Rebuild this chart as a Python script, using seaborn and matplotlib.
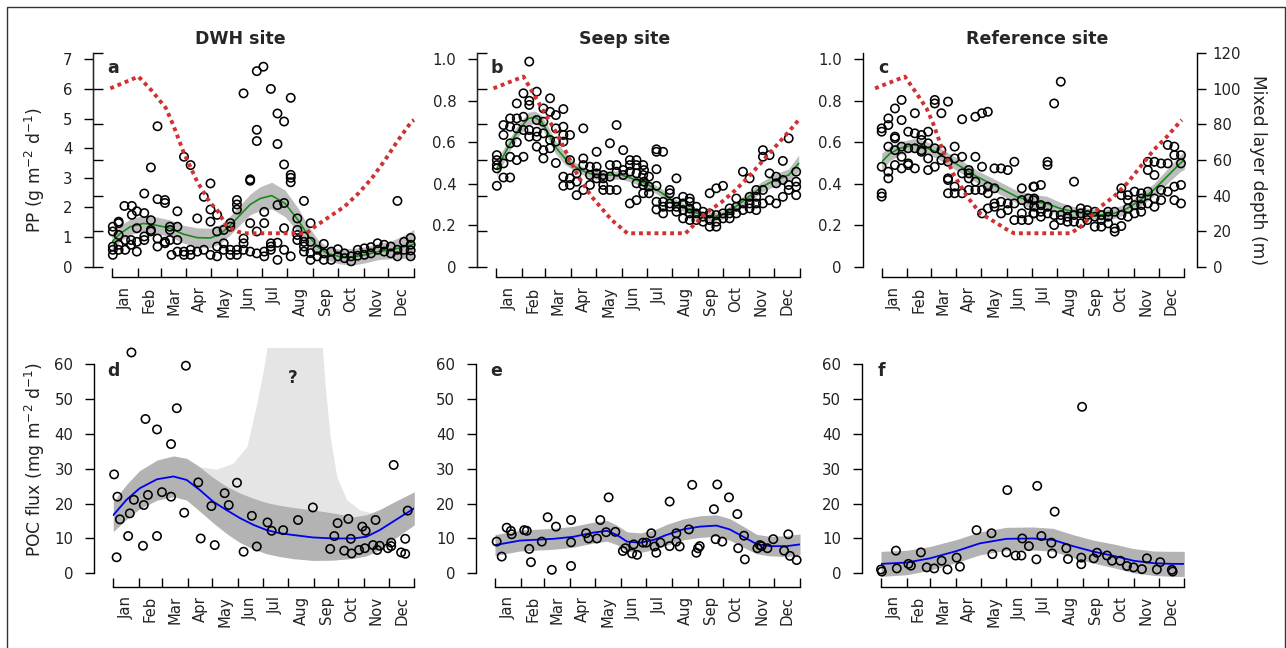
import numpy as np
import seaborn as sns
import matplotlib.pyplot as plt
from matplotlib.patches import Rectangle

W, H = 1286, 648
PT = 72 / 100  # points per pixel at dpi 100

month_edges = [0, 31, 59, 90, 120, 151, 181, 212, 243, 273, 304, 334, 365]
month_names = ['Jan', 'Feb', 'Mar', 'Apr', 'May', 'Jun', 'Jul', 'Aug', 'Sep', 'Oct', 'Nov', 'Dec']
month_mid = [(month_edges[i] + month_edges[i + 1]) / 2 for i in range(12)]

# ---------------- PP, DWH site (a) ----------------
pp_a_day = [1, 1, 1, 1, 1, 8, 8, 8, 8, 8, 16, 16, 15, 24, 24, 23, 23, 30, 30, 30, 30,
            39, 39, 39, 39, 47, 47, 47, 47, 55, 55, 55, 55, 64, 64, 64, 64, 70, 70, 70, 72,
            79, 79, 79, 79, 87, 95, 87, 87, 95, 95, 103, 103, 111, 111,
            119, 119, 119, 119, 127, 127, 127, 127, 135, 135, 135, 143, 143, 143, 143,
            151, 151, 151, 151, 151, 159, 159, 159, 159, 167, 167, 167, 167,
            175, 175, 175, 175, 175, 183,
            192, 216, 200, 208, 200, 208, 216, 216, 216, 232, 208, 200, 184, 184, 208, 224, 240,
            192, 192, 192, 200, 200, 184, 184, 208, 216, 224, 224, 224, 232, 232, 232, 232, 240, 240, 240,
            248, 248, 256, 256, 256, 265, 265, 273, 273, 281, 281, 289, 289, 297, 297, 305, 305,
            313, 313, 321, 321, 329, 329, 337, 337, 345, 345, 353, 353, 361, 361, 361, 361, 345]
pp_a_val = [1.35, 1.19, 0.68, 0.57, 0.40, 1.52, 1.47, 1.07, 0.57, 0.74, 0.90, 0.57, 2.05, 2.05, 1.75, 0.90, 0.74,
            1.87, 1.30, 0.84, 0.51, 2.47, 1.81, 1.02, 0.90, 3.35, 1.57, 1.24, 1.19, 4.74, 0.95, 0.68, 2.28,
            2.25, 2.15, 0.84, 0.79, 1.35, 1.24, 0.90, 0.40, 1.87, 1.35, 0.90, 0.51, 3.71, 3.43, 0.51, 0.40,
            0.57, 0.40, 1.63, 0.51, 2.36, 0.57, 2.81, 1.93, 1.52, 0.40, 1.75, 1.19, 0.68, 0.35,
            1.24, 0.79, 0.57, 1.47, 1.35, 0.57, 0.40, 2.25, 2.10, 1.93, 0.57, 0.40,
            5.85, 0.95, 0.79, 0.57, 2.95, 2.90, 1.47, 0.51, 6.60, 4.62, 4.24, 1.19, 0.45, 6.75,
            6.00, 5.70, 5.17, 4.90, 4.14, 3.45, 3.10, 3.00, 2.85, 2.22, 2.15, 2.08, 1.85, 1.47, 1.30, 1.63, 1.47,
            0.79, 0.68, 0.57, 0.81, 0.23, 0.51, 0.35, 0.57, 0.35, 1.24, 1.07, 0.90, 1.02, 0.84, 0.68, 0.51,
            0.84, 0.46, 0.23,
            0.57, 0.35, 0.77, 0.45, 0.23, 0.51, 0.23, 0.59, 0.35, 0.45, 0.29, 0.35, 0.18, 0.57, 0.37, 0.62, 0.40,
            0.66, 0.45, 0.79, 0.57, 0.74, 0.51, 0.68, 0.45, 0.57, 0.35, 0.84, 0.57, 0.97, 0.74, 0.55, 0.35, 2.22]
fit_a_day = [0, 10, 22, 38, 50, 70, 86, 103, 119, 131, 143, 155, 167, 179, 193, 209, 225, 237, 249, 260,
             274, 290, 306, 322, 338, 354, 365]
fit_a_val = [0.84, 1.12, 1.35, 1.46, 1.42, 1.30, 1.10, 0.98, 0.97, 1.10, 1.40, 1.75, 2.10, 2.30, 2.40, 2.14,
             1.57, 1.05, 0.66, 0.45, 0.35, 0.33, 0.40, 0.51, 0.57, 0.68, 0.76]
fit_a_se = [.28, .26, .26, .27, .28, .28, .30, .33, .33, .32, .32, .33, .35, .40, .45, .45, .40, .33, .25, .22,
            .25, .28, .27, .27, .30, .40, .50]
mld_a_day = [-2, 32, 48, 65, 74, 87, 103, 119, 127, 139, 152, 160, 235, 245, 257, 281, 298, 314, 330, 346, 362, 365]
mld_a_val = [100.3, 106.9, 99.0, 89.3, 79.7, 63.8, 47.8, 35.7, 31.9, 22.5, 19.7, 18.8, 18.8, 22.5, 26.3, 33.8,
             41.3, 49.7, 60.0, 71.3, 81.6, 82.5]

# ---------------- PP, Seep site (b) ----------------
pp_b_day = [1, 1, 1, 1, 1, 9, 9, 9, 9, 17, 17, 17, 17, 17, 25, 25, 25, 25, 25, 33, 33, 33, 33,
            40, 40, 40, 40, 40, 49, 49, 49, 49, 49, 57, 57, 57, 57, 57, 65, 65, 65, 65, 72, 72, 72, 72,
            81, 81, 81, 81, 81, 81, 89, 89, 89, 89, 97, 97, 97, 105, 105, 105, 105, 113, 113, 113,
            121, 121, 121, 121, 129, 129, 129, 129, 137, 137, 137, 137, 145, 145, 145, 145, 153, 153, 153,
            161, 161, 161, 161, 169, 169, 169, 169, 169, 177, 177, 177, 177,
            178, 178, 184, 184, 184, 193, 193, 193, 193, 193, 193, 201, 201, 201, 201, 209, 209, 209, 209,
            217, 217, 217, 217, 225, 225, 225, 225, 233, 233, 233, 233, 233, 241, 241, 241, 249, 249, 249,
            257, 257, 257, 257, 265, 265, 265, 265, 273, 273, 273, 281, 281, 281, 289, 289, 289,
            297, 297, 297, 305, 305, 305, 305, 313, 313, 313, 313, 321, 321, 321, 321, 329, 329, 329,
            337, 337, 337, 345, 345, 345, 352, 352, 352, 361, 361, 361, 361]
pp_b_val = [0.538, 0.514, 0.49, 0.474, 0.39, 0.683, 0.635, 0.498, 0.43, 0.715, 0.675, 0.595, 0.53, 0.43,
            0.787, 0.715, 0.667, 0.60, 0.514, 0.836, 0.723, 0.659, 0.53, 0.989, 0.80, 0.78, 0.659, 0.627,
            0.844, 0.707, 0.651, 0.627, 0.579, 0.763, 0.699, 0.643, 0.562, 0.522, 0.812, 0.747, 0.611, 0.571,
            0.731, 0.667, 0.603, 0.50, 0.76, 0.675, 0.635, 0.603, 0.434, 0.39, 0.635, 0.514, 0.426, 0.394,
            0.45, 0.41, 0.345, 0.667, 0.522, 0.49, 0.37, 0.482, 0.442, 0.394, 0.554, 0.482, 0.45, 0.426,
            0.442, 0.426, 0.394, 0.37, 0.595, 0.49, 0.434, 0.37, 0.683, 0.49, 0.458, 0.37, 0.562, 0.466, 0.442,
            0.514, 0.49, 0.458, 0.305, 0.514, 0.49, 0.45, 0.402, 0.321, 0.49, 0.442, 0.394, 0.354,
            0.466, 0.41, 0.434, 0.386, 0.354, 0.566, 0.554, 0.47, 0.39, 0.313, 0.276, 0.554, 0.313, 0.289, 0.257,
            0.37, 0.354, 0.305, 0.289, 0.426, 0.313, 0.289, 0.265, 0.337, 0.305, 0.273, 0.233,
            0.329, 0.313, 0.281, 0.257, 0.225, 0.289, 0.257, 0.225, 0.265, 0.241, 0.217,
            0.354, 0.257, 0.225, 0.193, 0.378, 0.249, 0.217, 0.193, 0.39, 0.257, 0.233, 0.281, 0.257, 0.233,
            0.329, 0.289, 0.257, 0.458, 0.305, 0.273, 0.426, 0.337, 0.305, 0.281, 0.37, 0.337, 0.305, 0.273,
            0.562, 0.53, 0.37, 0.305, 0.538, 0.45, 0.321, 0.434, 0.402, 0.305, 0.51, 0.418, 0.337,
            0.619, 0.394, 0.37, 0.458, 0.41, 0.386, 0.345]
fit_b_day = [1, 15, 27, 39, 47, 55, 63, 71, 83, 95, 107, 119, 135, 151, 163, 180, 200, 216, 232, 248, 260,
             272, 288, 304, 320, 336, 352, 364]
fit_b_val = [0.474, 0.579, 0.659, 0.715, 0.720, 0.699, 0.643, 0.579, 0.522, 0.482, 0.458, 0.442, 0.442, 0.442,
             0.426, 0.402, 0.354, 0.305, 0.273, 0.249, 0.241, 0.249, 0.289, 0.337, 0.386, 0.418, 0.442, 0.498]
fit_b_se = [.04, .03, .03, .03, .03, .03, .03, .03, .03, .02, .02, .02, .02, .02, .02, .02, .02, .02, .02, .02,
            .02, .02, .02, .025, .025, .03, .03, .04]
mld_b_day = [-3, 33, 47, 61, 73, 85, 99, 115, 139, 158, 228, 240, 252, 272, 288, 304, 320, 336, 352, 364]
mld_b_val = [100.3, 106.9, 95.6, 84.4, 75.0, 63.8, 50.6, 39.4, 26.3, 18.8, 18.8, 24.4, 30.0, 36.6, 43.1, 50.6,
             59.1, 67.5, 75.9, 82.5]

# ---------------- PP, Reference site (c) ----------------
pp_c_day = [0, 0, 0, 0, 0, 8, 8, 8, 8, 8, 16, 16, 16, 16, 16, 24, 24, 24, 24, 24, 32, 32, 32, 32,
            40, 40, 40, 40, 48, 48, 48, 48, 56, 56, 56, 56, 64, 64, 64, 64, 72, 72, 72, 80, 80, 80, 80, 80,
            88, 88, 88, 88, 97, 97, 97, 97, 105, 105, 105, 105, 113, 113, 113, 113, 121, 121, 121, 121,
            128, 128, 128, 128, 136, 136, 136, 136, 144, 144, 144, 152, 152, 152, 160, 160, 160,
            169, 169, 169, 169, 177, 177, 177, 183, 183, 183,
            184, 184, 184, 184, 192, 192, 192, 192, 200, 200, 200, 200, 208, 208, 208, 216, 216, 216,
            224, 224, 224, 232, 232, 232, 240, 240, 240, 248, 248, 248, 257, 257, 257, 265, 265, 265,
            273, 273, 273, 281, 281, 281, 289, 289, 289, 289, 297, 297, 297, 297, 305, 305, 305,
            313, 313, 313, 313, 321, 321, 321, 321, 329, 329, 329, 329, 337, 337, 337, 345, 345, 345,
            353, 353, 353, 353, 361, 361, 361, 361]
pp_c_val = [0.667, 0.651, 0.482, 0.354, 0.338, 0.715, 0.683, 0.579, 0.458, 0.426, 0.763, 0.627, 0.619, 0.562,
            0.49, 0.804, 0.707, 0.579, 0.53, 0.474, 0.651, 0.571, 0.498, 0.49, 0.74, 0.643, 0.571, 0.474,
            0.635, 0.611, 0.562, 0.554, 0.651, 0.595, 0.522, 0.466, 0.804, 0.787, 0.571, 0.482,
            0.74, 0.562, 0.514, 0.796, 0.506, 0.426, 0.418, 0.354, 0.579, 0.522, 0.386, 0.354,
            0.711, 0.53, 0.45, 0.354, 0.466, 0.45, 0.426, 0.37, 0.723, 0.53, 0.41, 0.37, 0.74, 0.482, 0.37, 0.257,
            0.747, 0.386, 0.354, 0.281, 0.474, 0.378, 0.305, 0.289, 0.474, 0.313, 0.257, 0.466, 0.305, 0.273,
            0.506, 0.305, 0.225, 0.378, 0.321, 0.257, 0.225, 0.329, 0.297, 0.225, 0.386, 0.321, 0.257,
            0.386, 0.329, 0.289, 0.257, 0.394, 0.297, 0.265, 0.241, 0.506, 0.49, 0.289, 0.257,
            0.787, 0.249, 0.201, 0.892, 0.249, 0.225, 0.273, 0.241, 0.217, 0.41, 0.249, 0.217,
            0.281, 0.257, 0.209, 0.273, 0.249, 0.225, 0.265, 0.241, 0.193, 0.249, 0.225, 0.193,
            0.265, 0.241, 0.209, 0.265, 0.185, 0.169, 0.378, 0.345, 0.249, 0.196, 0.345, 0.321, 0.281, 0.241,
            0.362, 0.297, 0.257, 0.354, 0.329, 0.297, 0.265, 0.506, 0.466, 0.362, 0.305,
            0.506, 0.442, 0.329, 0.289, 0.498, 0.37, 0.321, 0.587, 0.498, 0.362,
            0.579, 0.538, 0.386, 0.321, 0.538, 0.498, 0.394, 0.305]
fit_c_day = [0, 10, 22, 38, 50, 66, 82, 99, 115, 131, 147, 163, 183, 199, 215, 232, 248, 264, 280, 296, 312,
             328, 344, 360, 365]
fit_c_val = [0.506, 0.546, 0.571, 0.587, 0.579, 0.554, 0.514, 0.474, 0.434, 0.402, 0.370, 0.337, 0.313, 0.305,
             0.281, 0.265, 0.257, 0.249, 0.257, 0.281, 0.321, 0.370, 0.434, 0.498, 0.514]
fit_c_se = [.04, .035, .03, .03, .03, .03, .03, .03, .03, .03, .03, .03, .035, .035, .03, .025, .025, .025,
            .025, .025, .03, .03, .035, .04, .045]
mld_c_day = [-8, 28, 42, 54, 62, 72, 86, 103, 119, 139, 155, 160, 228, 240, 252, 264, 280, 296, 312, 328,
             344, 360, 362]
mld_c_val = [100.3, 106.9, 97.5, 89.1, 80.6, 67.5, 52.5, 39.4, 30.0, 24.4, 19.7, 18.8, 18.8, 22.5, 28.1, 33.8,
             39.4, 46.9, 56.2, 65.6, 73.1, 81.6, 82.5]

# ---------------- POC flux, DWH site (d) ----------------
poc_d_day = [1, 4, 5, 8, 18, 20, 22, 25, 36, 37, 39, 42, 53, 53, 59, 70, 70, 77, 86, 88, 103, 106, 119, 123,
             135, 140, 150, 158, 168, 174, 187, 192, 206, 224, 242, 263, 268, 272, 280, 285, 288, 289, 298,
             302, 306, 305, 315, 318, 320, 323, 333, 337, 337, 340, 349, 354, 354, 357]
poc_d_val = [28.4, 4.6, 22.0, 15.5, 10.7, 17.2, 63.4, 21.1, 7.9, 19.6, 44.3, 22.5, 10.7, 41.3, 23.3, 22.0,
             37.1, 47.4, 17.4, 59.6, 26.1, 10.0, 19.3, 8.1, 23.0, 19.6, 26.0, 6.2, 16.5, 7.7, 14.6, 12.2, 12.4,
             15.3, 18.9, 7.0, 10.7, 14.4, 6.5, 15.6, 9.9, 5.7, 6.7, 13.4, 12.2, 7.2, 8.1, 15.3, 6.7, 7.9, 7.2,
             8.8, 7.8, 31.1, 6.0, 5.6, 9.9, 18.0]
fit_d_day = [0, 16, 32, 53, 73, 89, 105, 121, 137, 154, 170, 186, 202, 218, 242, 267, 291, 307, 323, 339, 365]
fit_d_val = [16.7, 21.1, 24.4, 27.0, 27.8, 26.8, 23.9, 20.6, 18.2, 15.8, 13.9, 12.4, 11.5, 11.0, 10.3, 10.0,
             10.0, 10.5, 12.4, 14.8, 18.7]
fit_d_lo = [12.0, 15.5, 18.5, 21.0, 22.0, 21.0, 17.8, 14.5, 11.5, 8.8, 7.0, 5.6, 4.8, 4.2, 3.7, 3.8, 4.3, 5.0,
            7.0, 9.6, 13.9]
fit_d_hi = [20.6, 25.5, 29.5, 32.5, 33.7, 33.0, 30.5, 27.5, 25.0, 23.0, 21.5, 20.3, 19.5, 18.9, 18.2, 17.3,
            16.2, 16.8, 18.3, 20.3, 23.4]
unk_d_day = [89, 105, 125, 145, 162, 174, 182, 190, 252, 257, 263, 271, 283, 299, 315, 330]
unk_d_lo = [21.0, 17.8, 13.8, 10.0, 7.8, 6.5, 6.0, 5.5, 3.7, 3.7, 3.8, 3.9, 4.1, 4.6, 5.5, 7.5]
unk_d_hi = [33.0, 30.6, 29.9, 31.6, 36.4, 48.8, 58.4, 70.0, 70.0, 53.6, 39.2, 27.8, 21.1, 18.2, 17.2, 18.5]

# ---------------- POC flux, Seep site (e) ----------------
poc_e_day = [2, 8, 14, 19, 20, 35, 38, 41, 43, 56, 63, 68, 73, 91, 91, 91, 109, 112, 122, 126, 133, 136, 144,
             153, 156, 164, 166, 170, 177, 181, 187, 191, 193, 198, 209, 209, 217, 217, 221, 232, 236, 241,
             243, 245, 262, 264, 266, 272, 280, 290, 291, 298, 299, 314, 317, 319, 326, 333, 346, 351, 353, 361]
poc_e_val = [9.1, 4.8, 13.1, 12.2, 11.2, 12.4, 12.2, 7.0, 3.2, 9.1, 16.1, 1.0, 13.4, 15.3, 8.9, 2.1, 11.5,
             10.0, 10.0, 15.3, 11.8, 21.8, 11.9, 6.4, 7.2, 5.7, 8.3, 5.3, 8.8, 8.8, 11.5, 7.7, 5.9, 8.8, 20.6,
             7.8, 11.5, 9.1, 7.7, 12.6, 25.4, 5.9, 7.2, 7.8, 18.4, 9.8, 25.5, 9.1, 21.8, 17.0, 7.2, 10.8, 4.0,
             7.2, 8.1, 7.8, 7.2, 9.8, 6.5, 11.2, 5.0, 3.8]
fit_e_day = [0, 30, 70, 94, 118, 134, 146, 158, 174, 190, 205, 225, 245, 265, 281, 297, 313, 329, 349, 365]
fit_e_val = [8.1, 9.4, 9.9, 10.5, 11.7, 12.2, 11.0, 9.1, 8.8, 9.6, 11.0, 12.6, 13.4, 13.7, 12.6, 10.5, 8.4,
             7.8, 7.8, 8.3]
fit_e_se = [3.0, 3.0, 3.0, 3.0, 3.0, 3.0, 2.8, 2.8, 2.8, 2.8, 3.0, 3.0, 3.1, 3.1, 3.1, 3.0, 2.8, 2.8, 3.0, 3.0]

# ---------------- POC flux, Reference site (f) ----------------
poc_f_day = [0, 1, 18, 19, 33, 36, 48, 55, 64, 73, 80, 91, 95, 115, 133, 134, 151, 152, 162, 169, 170, 178,
             187, 188, 193, 205, 206, 209, 223, 225, 241, 241, 242, 256, 260, 272, 278, 288, 296, 304, 314,
             320, 332, 336, 350, 351]
poc_f_val = [1.1, 0.5, 6.5, 1.4, 2.7, 2.2, 6.0, 1.7, 1.4, 3.6, 1.1, 4.5, 1.9, 12.4, 11.5, 5.5, 6.0, 23.9,
             5.1, 5.1, 10.0, 7.8, 4.0, 25.1, 10.7, 8.8, 5.7, 17.7, 7.2, 4.1, 4.5, 2.6, 47.8, 4.3, 5.9, 5.1,
             3.6, 3.6, 2.1, 1.7, 1.2, 4.3, 1.1, 3.2, 1.0, 0.5]
fit_f_day = [0, 31, 59, 91, 119, 151, 183, 207, 231, 256, 280, 304, 328, 352, 365]
fit_f_val = [2.7, 3.1, 4.3, 6.4, 8.6, 9.9, 10.0, 9.6, 7.8, 6.2, 5.0, 3.6, 2.9, 2.7, 2.7]
fit_f_se = [3.6, 3.5, 3.4, 3.3, 3.3, 3.3, 3.3, 3.3, 3.3, 3.3, 3.4, 3.5, 3.5, 3.6, 3.6]

sns.set_style('ticks')
plt.rcParams['font.family'] = ['DejaVu Sans']
plt.rcParams['mathtext.fontset'] = 'dejavusans'

GREEN = '#178c17'
RED = '#cf3232'
BLUE = '#0000f0'
TICK_FS = 10.7


def px_box(x0, x1, ytop, ybot):
    return [x0 / W, 1 - ybot / H, (x1 - x0) / W, (ybot - ytop) / H]


def style_axis(ax, ylim, yticks, ylabels, spine_top, xline_off):
    ax.set_xlim(0, 365)
    ax.set_ylim(*ylim)
    ax.set_facecolor('none')
    for s in ['top', 'right']:
        ax.spines[s].set_visible(False)
    ax.spines['left'].set_position(('outward', 19 * PT))
    ax.spines['bottom'].set_position(('outward', xline_off * PT))
    ax.spines['left'].set_bounds(0, spine_top)
    ax.spines['bottom'].set_bounds(0, 365)
    for s in ['left', 'bottom']:
        ax.spines[s].set_linewidth(1.0)
        ax.spines[s].set_color('black')
    ax.set_xticks(month_edges)
    ax.set_xticklabels([])
    ax.set_xticks(month_mid, minor=True)
    ax.set_xticklabels(month_names, minor=True, rotation=90, fontsize=TICK_FS, color='#222222')
    ax.tick_params(axis='x', which='major', direction='in', length=9 * PT, width=1.0, color='black')
    ax.tick_params(axis='x', which='minor', direction='in', length=0, pad=9.5 * PT)
    ax.set_yticks(yticks)
    ax.set_yticklabels(ylabels, fontsize=TICK_FS, color='#222222')
    ax.tick_params(axis='y', which='major', direction='out', length=9 * PT, width=1.0, color='black', pad=8.5)
    ax.tick_params(axis='y', which='minor', length=0)
    ax.set_xlabel('')
    ax.set_ylabel('')


def draw_points(ax, days, vals):
    sns.scatterplot(x=days, y=vals, ax=ax, marker='o', s=36, facecolors='none', edgecolors='black',
                    linewidth=1.15, clip_on=False, zorder=4, legend=False)


def mld_twin(ax, days, vals, side):
    tw = ax.twinx()
    tw.set_ylim(-(272 - 266.7) / 1.778, 120)
    tw.set_xlim(0, 365)
    for s in tw.spines.values():
        s.set_visible(False)
    sns.lineplot(x=days, y=vals, ax=tw, color=RED, linewidth=2.8, linestyle=(0, (1, 1)),
                 clip_on=False, zorder=5)
    tw.set_yticks(range(0, 121, 20))
    if side == 'left':
        tw.spines['left'].set_visible(True)
        tw.spines['left'].set_position(('outward', 19 * PT))
        tw.spines['left'].set_bounds(0, 120)
        tw.yaxis.tick_left()
        tw.tick_params(axis='y', direction='in', length=10 * PT, width=1.0, color='black',
                       labelleft=False, labelright=False)
    else:
        tw.spines['right'].set_visible(True)
        tw.spines['right'].set_position(('outward', 12.4 * PT))
        tw.spines['right'].set_bounds(0, 120)
        tw.spines['right'].set_linewidth(1.0)
        tw.spines['right'].set_color('black')
        tw.yaxis.tick_right()
        tw.set_yticklabels([str(v) for v in range(0, 121, 20)], fontsize=TICK_FS, color='#222222')
        tw.tick_params(axis='y', direction='out', length=9 * PT, width=1.0, color='black', pad=5)
    tw.set_xlabel('')
    tw.set_ylabel('')
    return tw


fig = plt.figure(figsize=(W / 100, H / 100), dpi=100)

# ---- top row: primary production ----
top_boxes = [(112.0, 414.0), (496.0, 799.5), (881.7, 1184.3)]
pp_data = [(pp_a_day, pp_a_val, fit_a_day, fit_a_val, fit_a_se, mld_a_day, mld_a_val),
           (pp_b_day, pp_b_val, fit_b_day, fit_b_val, fit_b_se, mld_b_day, mld_b_val),
           (pp_c_day, pp_c_val, fit_c_day, fit_c_val, fit_c_se, mld_c_day, mld_c_val)]
for i, ((x0, x1), d) in enumerate(zip(top_boxes, pp_data)):
    ax = fig.add_axes(px_box(x0, x1, 53.3, 272))
    ppu = 29.63 if i == 0 else 207.4
    ylim = (-(272 - 266.7) / ppu, (266.7 - 53.3) / ppu)
    day, val, fday, fval, fse, mday, mval = d
    fval = np.array(fval)
    fse = np.array(fse)
    ax.fill_between(fday, fval - fse, fval + fse, color='#bdbdbd', linewidth=0, zorder=1)
    draw_points(ax, day, val)
    sns.lineplot(x=fday, y=fval, ax=ax, color=GREEN, linewidth=1.2, zorder=3)
    if i == 0:
        yt = list(range(0, 8))
        yl = [str(v) for v in yt]
    else:
        yt = [0, 0.2, 0.4, 0.6, 0.8, 1.0]
        yl = ['0', '0.2', '0.4', '0.6', '0.8', '1.0']
    style_axis(ax, ylim, yt, yl, ylim[1], 5)
    mld_twin(ax, mday, mval, 'left' if i < 2 else 'right')

# ---- bottom row: POC flux ----
bot_boxes = [(113.3, 414.3), (495.0, 800.0), (881.0, 1184.3)]
ppu = 3.483
ylim_b = (-(580 - 573.3) / ppu, (573.3 - 348) / ppu)
for i, (x0, x1) in enumerate(bot_boxes):
    ax = fig.add_axes(px_box(x0, x1, 348, 580))
    if i == 0:
        ax.fill_between(unk_d_day, unk_d_lo, unk_d_hi, color='#e5e5e5', linewidth=0, zorder=0)
        ax.fill_between(fit_d_day, fit_d_lo, fit_d_hi, color='#b3b3b3', linewidth=0, zorder=1)
        draw_points(ax, poc_d_day, poc_d_val)
        sns.lineplot(x=fit_d_day, y=fit_d_val, ax=ax, color=BLUE, linewidth=1.3, zorder=3)
        ax.text(218, 56, '?', ha='center', va='center', fontsize=12, fontweight='bold')
    else:
        fday, fval, fse = (fit_e_day, fit_e_val, fit_e_se) if i == 1 else (fit_f_day, fit_f_val, fit_f_se)
        pday, pval = (poc_e_day, poc_e_val) if i == 1 else (poc_f_day, poc_f_val)
        fval = np.array(fval)
        fse = np.array(fse)
        ax.fill_between(fday, fval - fse, fval + fse, color='#b3b3b3', linewidth=0, zorder=1)
        draw_points(ax, pday, pval)
        sns.lineplot(x=fday, y=fval, ax=ax, color=BLUE, linewidth=1.3, zorder=3)
    style_axis(ax, ylim_b, list(range(0, 61, 10)), [str(v) for v in range(0, 61, 10)], 60, 6.7)

# ---- text ----
for x, t in [(240.5, 'DWH site'), (625, 'Seep site'), (1037, 'Reference site')]:
    fig.text(x / W, 1 - 39 / H, t, ha='center', va='center', fontsize=12.5, fontweight='bold')
for x, y, t in [(107, 68, 'a'), (491, 68, 'b'), (878, 68, 'c'),
                (107, 371, 'd'), (490, 371, 'e'), (878, 371, 'f')]:
    fig.text(x / W, 1 - y / H, t, ha='left', va='center', fontsize=12.5, fontweight='bold')
fig.text(35 / W, 1 - 170 / H, 'PP (g m$^{-2}$ d$^{-1}$)', rotation=90, ha='center', va='center',
         fontsize=12.3, color='#222222')
fig.text(35 / W, 1 - 459 / H, 'POC flux (mg m$^{-2}$ d$^{-1}$)', rotation=90, ha='center', va='center',
         fontsize=12.3, color='#222222')
fig.text(1258 / W, 1 - 170 / H, 'Mixed layer depth (m)', rotation=270, ha='center', va='center',
         fontsize=12.3, color='#222222')

fig.add_artist(Rectangle((7 / W, -0.05), (1284.5 - 7) / W, 1.05 - 7 / H, transform=fig.transFigure,
                         fill=False, linewidth=1.0, edgecolor='#333333'))

fig.savefig('out.png', dpi=100)
